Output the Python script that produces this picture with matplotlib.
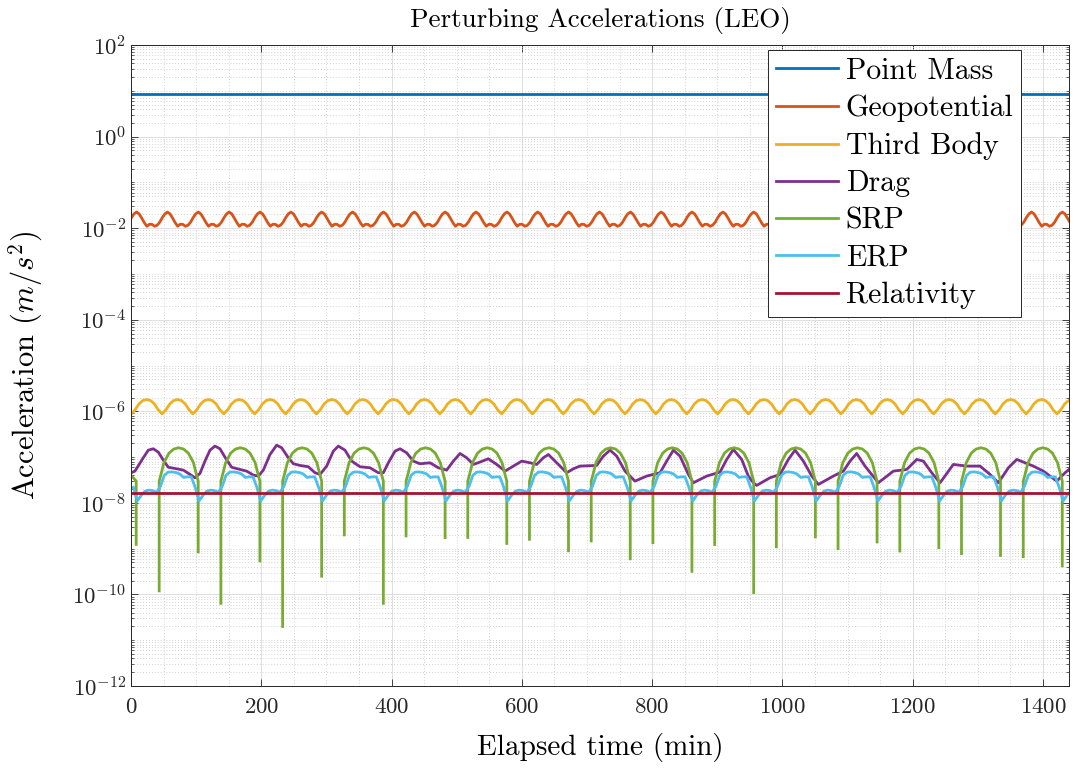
import numpy as np
import matplotlib
matplotlib.use('Agg')
import matplotlib.pyplot as plt
from matplotlib.ticker import FixedLocator, LogLocator, NullFormatter, MultipleLocator

plt.rcParams['font.family'] = ['cmr10', 'DejaVu Serif']
plt.rcParams['mathtext.fontset'] = 'cm'
plt.rcParams['axes.formatter.use_mathtext'] = True

# ---------------- data ----------------
labels = ['Point Mass', 'Geopotential', 'Third Body', 'Drag', 'SRP', 'ERP', 'Relativity']
colors = ['#0072BD', '#D95319', '#EDB120', '#7E2F8E', '#77AC30', '#4DBEEE', '#A2142F']

x_ticks = [0, 200, 400, 600, 800, 1000, 1200, 1400]

# constant series
pm_t = [0, 1440]
pm_v = [8.4, 8.4]
rel_t = [0, 1440]
rel_v = [1.67e-8, 1.67e-8]

# Geopotential, sampled every 3.9475 min starting at -3.24 min
geo_t0, geo_dt = -3.24, 3.9475
geo_v = [
    1.35e-2, 1.70e-2, 2.05e-2, 2.25e-2, 2.05e-2, 1.66e-2, 1.32e-2, 1.10e-2, 1.22e-2, 1.21e-2, 1.10e-2, 1.16e-2,
    1.35e-2, 1.70e-2, 2.05e-2, 2.25e-2, 2.05e-2, 1.66e-2, 1.32e-2, 1.10e-2, 1.22e-2, 1.21e-2, 1.10e-2, 1.16e-2,
    1.35e-2, 1.70e-2, 2.05e-2, 2.25e-2, 2.05e-2, 1.66e-2, 1.32e-2, 1.10e-2, 1.22e-2, 1.21e-2, 1.10e-2, 1.16e-2,
    1.35e-2, 1.70e-2, 2.05e-2, 2.25e-2, 2.05e-2, 1.66e-2, 1.32e-2, 1.10e-2, 1.22e-2, 1.21e-2, 1.10e-2, 1.16e-2,
    1.35e-2, 1.70e-2, 2.05e-2, 2.25e-2, 2.05e-2, 1.66e-2, 1.32e-2, 1.10e-2, 1.22e-2, 1.21e-2, 1.10e-2, 1.16e-2,
    1.35e-2, 1.70e-2, 2.05e-2, 2.25e-2, 2.05e-2, 1.66e-2, 1.32e-2, 1.10e-2, 1.22e-2, 1.21e-2, 1.10e-2, 1.16e-2,
    1.35e-2, 1.70e-2, 2.05e-2, 2.25e-2, 2.05e-2, 1.66e-2, 1.32e-2, 1.10e-2, 1.22e-2, 1.21e-2, 1.10e-2, 1.16e-2,
    1.35e-2, 1.70e-2, 2.05e-2, 2.25e-2, 2.05e-2, 1.66e-2, 1.32e-2, 1.10e-2, 1.22e-2, 1.21e-2, 1.10e-2, 1.16e-2,
    1.35e-2, 1.70e-2, 2.05e-2, 2.25e-2, 2.05e-2, 1.66e-2, 1.32e-2, 1.10e-2, 1.22e-2, 1.21e-2, 1.10e-2, 1.16e-2,
    1.35e-2, 1.70e-2, 2.05e-2, 2.25e-2, 2.05e-2, 1.66e-2, 1.32e-2, 1.10e-2, 1.22e-2, 1.21e-2, 1.10e-2, 1.16e-2,
    1.35e-2, 1.70e-2, 2.05e-2, 2.25e-2, 2.05e-2, 1.66e-2, 1.32e-2, 1.10e-2, 1.22e-2, 1.21e-2, 1.10e-2, 1.16e-2,
    1.35e-2, 1.70e-2, 2.05e-2, 2.25e-2, 2.05e-2, 1.66e-2, 1.32e-2, 1.10e-2, 1.22e-2, 1.21e-2, 1.10e-2, 1.16e-2,
    1.35e-2, 1.70e-2, 2.05e-2, 2.25e-2, 2.05e-2, 1.66e-2, 1.32e-2, 1.10e-2, 1.22e-2, 1.21e-2, 1.10e-2, 1.16e-2,
    1.35e-2, 1.70e-2, 2.05e-2, 2.25e-2, 2.05e-2, 1.66e-2, 1.32e-2, 1.10e-2, 1.22e-2, 1.21e-2, 1.10e-2, 1.16e-2,
    1.35e-2, 1.70e-2, 2.05e-2, 2.25e-2, 2.05e-2, 1.66e-2, 1.32e-2, 1.10e-2, 1.22e-2, 1.21e-2, 1.10e-2, 1.16e-2,
    1.35e-2, 1.70e-2, 2.05e-2, 2.25e-2, 2.05e-2, 1.66e-2, 1.32e-2, 1.10e-2, 1.22e-2, 1.21e-2, 1.10e-2, 1.16e-2,
    1.35e-2, 1.70e-2, 2.05e-2, 2.25e-2, 2.05e-2, 1.66e-2, 1.32e-2, 1.10e-2, 1.22e-2, 1.21e-2, 1.10e-2, 1.16e-2,
    1.35e-2, 1.70e-2, 2.05e-2, 2.25e-2, 2.05e-2, 1.66e-2, 1.32e-2, 1.10e-2, 1.22e-2, 1.21e-2, 1.10e-2, 1.16e-2,
    1.35e-2, 1.70e-2, 2.05e-2, 2.25e-2, 2.05e-2, 1.66e-2, 1.32e-2, 1.10e-2, 1.22e-2, 1.21e-2, 1.10e-2, 1.16e-2,
    1.35e-2, 1.70e-2, 2.05e-2, 2.25e-2, 2.05e-2, 1.66e-2, 1.32e-2, 1.10e-2, 1.22e-2, 1.21e-2, 1.10e-2, 1.16e-2,
    1.35e-2, 1.70e-2, 2.05e-2, 2.25e-2, 2.05e-2, 1.66e-2, 1.32e-2, 1.10e-2, 1.22e-2, 1.21e-2, 1.10e-2, 1.16e-2,
    1.35e-2, 1.70e-2, 2.05e-2, 2.25e-2, 2.05e-2, 1.66e-2, 1.32e-2, 1.10e-2, 1.22e-2, 1.21e-2, 1.10e-2, 1.16e-2,
    1.35e-2, 1.70e-2, 2.05e-2, 2.25e-2, 2.05e-2, 1.66e-2, 1.32e-2, 1.10e-2, 1.22e-2, 1.21e-2, 1.10e-2, 1.16e-2,
    1.35e-2, 1.70e-2, 2.05e-2, 2.25e-2, 2.05e-2, 1.66e-2, 1.32e-2, 1.10e-2, 1.22e-2, 1.21e-2, 1.10e-2, 1.16e-2,
    1.35e-2, 1.70e-2, 2.05e-2, 2.25e-2, 2.05e-2, 1.66e-2, 1.32e-2, 1.10e-2, 1.22e-2, 1.21e-2, 1.10e-2, 1.16e-2,
    1.35e-2, 1.70e-2, 2.05e-2, 2.25e-2, 2.05e-2, 1.66e-2, 1.32e-2, 1.10e-2, 1.22e-2, 1.21e-2, 1.10e-2, 1.16e-2,
    1.35e-2, 1.70e-2, 2.05e-2, 2.25e-2, 2.05e-2, 1.66e-2, 1.32e-2, 1.10e-2, 1.22e-2, 1.21e-2, 1.10e-2, 1.16e-2,
    1.35e-2, 1.70e-2, 2.05e-2, 2.25e-2, 2.05e-2, 1.66e-2, 1.32e-2, 1.10e-2, 1.22e-2, 1.21e-2, 1.10e-2, 1.16e-2,
    1.35e-2, 1.70e-2, 2.05e-2, 2.25e-2, 2.05e-2, 1.66e-2, 1.32e-2, 1.10e-2, 1.22e-2, 1.21e-2, 1.10e-2, 1.16e-2,
    1.35e-2, 1.70e-2, 2.05e-2, 2.25e-2, 2.05e-2, 1.66e-2, 1.32e-2, 1.10e-2, 1.22e-2, 1.21e-2, 1.10e-2, 1.16e-2,
    1.35e-2, 1.70e-2, 2.05e-2, 2.25e-2, 2.05e-2, 1.66e-2, 1.32e-2,
]

# Third body, sampled every 5.921 min starting at -5.5 min
tb_t0, tb_dt = -5.5, 5.921
tb_v = [
    1.08e-6, 8.8e-7, 1.08e-6, 1.45e-6, 1.72e-6, 1.81e-6, 1.72e-6, 1.45e-6,
    1.08e-6, 8.8e-7, 1.08e-6, 1.45e-6, 1.72e-6, 1.81e-6, 1.72e-6, 1.45e-6,
    1.08e-6, 8.8e-7, 1.08e-6, 1.45e-6, 1.72e-6, 1.81e-6, 1.72e-6, 1.45e-6,
    1.08e-6, 8.8e-7, 1.08e-6, 1.45e-6, 1.72e-6, 1.81e-6, 1.72e-6, 1.45e-6,
    1.08e-6, 8.8e-7, 1.08e-6, 1.45e-6, 1.72e-6, 1.81e-6, 1.72e-6, 1.45e-6,
    1.08e-6, 8.8e-7, 1.08e-6, 1.45e-6, 1.72e-6, 1.81e-6, 1.72e-6, 1.45e-6,
    1.08e-6, 8.8e-7, 1.08e-6, 1.45e-6, 1.72e-6, 1.81e-6, 1.72e-6, 1.45e-6,
    1.08e-6, 8.8e-7, 1.08e-6, 1.45e-6, 1.72e-6, 1.81e-6, 1.72e-6, 1.45e-6,
    1.08e-6, 8.8e-7, 1.08e-6, 1.45e-6, 1.72e-6, 1.81e-6, 1.72e-6, 1.45e-6,
    1.08e-6, 8.8e-7, 1.08e-6, 1.45e-6, 1.72e-6, 1.81e-6, 1.72e-6, 1.45e-6,
    1.08e-6, 8.8e-7, 1.08e-6, 1.45e-6, 1.72e-6, 1.81e-6, 1.72e-6, 1.45e-6,
    1.08e-6, 8.8e-7, 1.08e-6, 1.45e-6, 1.72e-6, 1.81e-6, 1.72e-6, 1.45e-6,
    1.08e-6, 8.8e-7, 1.08e-6, 1.45e-6, 1.72e-6, 1.81e-6, 1.72e-6, 1.45e-6,
    1.08e-6, 8.8e-7, 1.08e-6, 1.45e-6, 1.72e-6, 1.81e-6, 1.72e-6, 1.45e-6,
    1.08e-6, 8.8e-7, 1.08e-6, 1.45e-6, 1.72e-6, 1.81e-6, 1.72e-6, 1.45e-6,
    1.08e-6, 8.8e-7, 1.08e-6, 1.45e-6, 1.72e-6, 1.81e-6, 1.72e-6, 1.45e-6,
    1.08e-6, 8.8e-7, 1.08e-6, 1.45e-6, 1.72e-6, 1.81e-6, 1.72e-6, 1.45e-6,
    1.08e-6, 8.8e-7, 1.08e-6, 1.45e-6, 1.72e-6, 1.81e-6, 1.72e-6, 1.45e-6,
    1.08e-6, 8.8e-7, 1.08e-6, 1.45e-6, 1.72e-6, 1.81e-6, 1.72e-6, 1.45e-6,
    1.08e-6, 8.8e-7, 1.08e-6, 1.45e-6, 1.72e-6, 1.81e-6, 1.72e-6, 1.45e-6,
    1.08e-6, 8.8e-7, 1.08e-6, 1.45e-6, 1.72e-6, 1.81e-6, 1.72e-6, 1.45e-6,
    1.08e-6, 8.8e-7, 1.08e-6, 1.45e-6, 1.72e-6, 1.81e-6, 1.72e-6, 1.45e-6,
    1.08e-6, 8.8e-7, 1.08e-6, 1.45e-6, 1.72e-6, 1.81e-6, 1.72e-6, 1.45e-6,
    1.08e-6, 8.8e-7, 1.08e-6, 1.45e-6, 1.72e-6, 1.81e-6, 1.72e-6, 1.45e-6,
    1.08e-6, 8.8e-7, 1.08e-6, 1.45e-6, 1.72e-6, 1.81e-6, 1.72e-6, 1.45e-6,
    1.08e-6, 8.8e-7, 1.08e-6, 1.45e-6, 1.72e-6, 1.81e-6, 1.72e-6, 1.45e-6,
    1.08e-6, 8.8e-7, 1.08e-6, 1.45e-6, 1.72e-6, 1.81e-6, 1.72e-6, 1.45e-6,
    1.08e-6, 8.8e-7, 1.08e-6, 1.45e-6, 1.72e-6, 1.81e-6, 1.72e-6, 1.45e-6,
    1.08e-6, 8.8e-7, 1.08e-6, 1.45e-6, 1.72e-6, 1.81e-6, 1.72e-6, 1.45e-6,
    1.08e-6, 8.8e-7, 1.08e-6, 1.45e-6, 1.72e-6, 1.81e-6, 1.72e-6, 1.45e-6,
    1.08e-6, 8.8e-7, 1.08e-6, 1.45e-6, 1.72e-6, 1.81e-6,
]

# ERP, sampled every 5.921 min starting at -2.14 min
erp_t0, erp_dt = -2.14, 5.921
erp_v = [
    2.0e-8, 2.2e-8, 1.1e-8, 1.45e-8, 1.8e-8, 1.9e-8, 1.85e-8, 1.7e-8, 2.3e-8, 4.0e-8, 4.7e-8, 4.75e-8, 4.6e-8, 4.3e-8, 3.6e-8, 3.7e-8,
    3.7e-8, 2.2e-8, 1.1e-8, 1.45e-8, 1.8e-8, 1.9e-8, 1.85e-8, 1.7e-8, 2.3e-8, 4.0e-8, 4.7e-8, 4.75e-8, 4.6e-8, 4.3e-8, 3.6e-8, 3.7e-8,
    3.7e-8, 2.2e-8, 1.1e-8, 1.45e-8, 1.8e-8, 1.9e-8, 1.85e-8, 1.7e-8, 2.3e-8, 4.0e-8, 4.7e-8, 4.75e-8, 4.6e-8, 4.3e-8, 3.6e-8, 3.7e-8,
    3.7e-8, 2.2e-8, 1.1e-8, 1.45e-8, 1.8e-8, 1.9e-8, 1.85e-8, 1.7e-8, 2.3e-8, 4.0e-8, 4.7e-8, 4.75e-8, 4.6e-8, 4.3e-8, 3.6e-8, 3.7e-8,
    3.7e-8, 2.2e-8, 1.1e-8, 1.45e-8, 1.8e-8, 1.9e-8, 1.85e-8, 1.7e-8, 2.3e-8, 4.0e-8, 4.7e-8, 4.75e-8, 4.6e-8, 4.3e-8, 3.6e-8, 3.7e-8,
    3.7e-8, 2.2e-8, 1.1e-8, 1.45e-8, 1.8e-8, 1.9e-8, 1.85e-8, 1.7e-8, 2.3e-8, 4.0e-8, 4.7e-8, 4.75e-8, 4.6e-8, 4.3e-8, 3.6e-8, 3.7e-8,
    3.7e-8, 2.2e-8, 1.1e-8, 1.45e-8, 1.8e-8, 1.9e-8, 1.85e-8, 1.7e-8, 2.3e-8, 4.0e-8, 4.7e-8, 4.75e-8, 4.6e-8, 4.3e-8, 3.6e-8, 3.7e-8,
    3.7e-8, 2.2e-8, 1.1e-8, 1.45e-8, 1.8e-8, 1.9e-8, 1.85e-8, 1.7e-8, 2.3e-8, 4.0e-8, 4.7e-8, 4.75e-8, 4.6e-8, 4.3e-8, 3.6e-8, 3.7e-8,
    3.7e-8, 2.2e-8, 1.1e-8, 1.45e-8, 1.8e-8, 1.9e-8, 1.85e-8, 1.7e-8, 2.3e-8, 4.0e-8, 4.7e-8, 4.75e-8, 4.6e-8, 4.3e-8, 3.6e-8, 3.7e-8,
    3.7e-8, 2.2e-8, 1.1e-8, 1.45e-8, 1.8e-8, 1.9e-8, 1.85e-8, 1.7e-8, 2.3e-8, 4.0e-8, 4.7e-8, 4.75e-8, 4.6e-8, 4.3e-8, 3.6e-8, 3.7e-8,
    3.7e-8, 2.2e-8, 1.1e-8, 1.45e-8, 1.8e-8, 1.9e-8, 1.85e-8, 1.7e-8, 2.3e-8, 4.0e-8, 4.7e-8, 4.75e-8, 4.6e-8, 4.3e-8, 3.6e-8, 3.7e-8,
    3.7e-8, 2.2e-8, 1.1e-8, 1.45e-8, 1.8e-8, 1.9e-8, 1.85e-8, 1.7e-8, 2.3e-8, 4.0e-8, 4.7e-8, 4.75e-8, 4.6e-8, 4.3e-8, 3.6e-8, 3.7e-8,
    3.7e-8, 2.2e-8, 1.1e-8, 1.45e-8, 1.8e-8, 1.9e-8, 1.85e-8, 1.7e-8, 2.3e-8, 4.0e-8, 4.7e-8, 4.75e-8, 4.6e-8, 4.3e-8, 3.6e-8, 3.7e-8,
    3.7e-8, 2.2e-8, 1.1e-8, 1.45e-8, 1.8e-8, 1.9e-8, 1.85e-8, 1.7e-8, 2.3e-8, 4.0e-8, 4.7e-8, 4.75e-8, 4.6e-8, 4.3e-8, 3.6e-8, 3.7e-8,
    3.7e-8, 2.2e-8, 1.1e-8, 1.45e-8, 1.8e-8, 1.9e-8, 1.85e-8, 1.7e-8, 2.3e-8, 4.0e-8, 4.7e-8, 4.75e-8, 4.6e-8, 4.3e-8, 3.6e-8, 3.7e-8,
    3.7e-8, 2.2e-8, 1.1e-8, 1.45e-8, 1.8e-8,
]

# Drag (key points)
drag_t = [0.0, 6.1, 18.9, 26.6, 34.3, 42.0, 49.6, 57.3, 70.1, 80.3, 90.6, 98.2, 105.9, 113.6, 121.3, 128.9,
          136.6, 145.8, 154.5, 167.3, 177.6, 187.8, 195.5, 203.2, 213.4, 223.6, 231.3, 241.6, 249.3, 259.5,
          272.3, 282.5, 290.2, 300.4, 310.6, 318.3, 328.5, 338.8, 351.6, 366.9, 379.7, 387.4, 395.1, 405.3,
          413.0, 423.2, 433.4, 443.7, 459.0, 471.8, 484.6, 494.9, 505.1, 515.3, 525.6, 535.8, 548.6, 561.4,
          574.2, 587.0, 599.8, 612.6, 622.8, 633.0, 640.7, 653.5, 668.8, 679.1, 689.3, 714.9, 725.1, 735.4,
          745.6, 758.4, 773.7, 791.6, 812.1, 822.4, 832.6, 842.8, 855.6, 863.3, 883.8, 904.2, 914.5, 924.7,
          937.5, 947.7, 955.4, 960.5, 981.0, 996.4, 1009.1, 1019.4, 1032.2, 1045.0, 1055.2, 1078.2, 1093.6,
          1103.8, 1114.0, 1126.8, 1147.3, 1170.3, 1190.8, 1206.2, 1216.4, 1229.2, 1242.0, 1262.4, 1282.9,
          1303.4, 1318.7, 1331.5, 1346.9, 1359.7, 1385.2, 1400.6, 1421.1, 1433.9, 1440.0]
drag_v = [4.55e-8, 4.94e-8, 9.67e-8, 1.42e-7, 1.52e-7, 1.28e-7, 8.6e-8, 6.0e-8, 5.56e-8, 5.2e-8, 4.19e-8, 3.54e-8, 4.4e-8, 8.17e-8, 1.42e-7, 1.74e-7,
          1.52e-7, 9.19e-8, 6.0e-8, 5.38e-8, 4.94e-8, 4.05e-8, 3.85e-8, 5.2e-8, 1.14e-7, 1.82e-7, 1.6e-7, 9.67e-8, 7.15e-8, 6.58e-8,
          6.15e-8, 4.55e-8, 4.19e-8, 6.36e-8, 1.35e-7, 1.74e-7, 1.42e-7, 8.17e-8, 6.15e-8, 5.85e-8, 4.55e-8, 4.55e-8, 7.52e-8, 1.35e-7,
          1.52e-7, 1.24e-7, 8.17e-8, 7.15e-8, 7.52e-8, 5.85e-8, 5.2e-8, 8.17e-8, 1.2e-7, 9.67e-8, 6.92e-8, 7.8e-8, 9.19e-8, 6.92e-8,
          4.94e-8, 6.36e-8, 8.17e-8, 7.52e-8, 6.92e-8, 9.67e-8, 1.14e-7, 7.52e-8, 4.55e-8, 5.56e-8, 6.36e-8, 6.58e-8, 1.05e-7, 1.42e-7,
          1.05e-7, 4.94e-8, 2.99e-8, 3.85e-8, 4.55e-8, 8.17e-8, 1.42e-7, 1.05e-7, 4.19e-8, 2.75e-8, 3.85e-8, 4.7e-8, 8.89e-8, 1.47e-7,
          8.89e-8, 3.85e-8, 2.75e-8, 2.41e-8, 3.54e-8, 4.19e-8, 8.89e-8, 1.42e-7, 8.17e-8, 3.85e-8, 2.53e-8, 3.85e-8, 4.94e-8,
          8.17e-8, 1.2e-7, 6.36e-8, 2.75e-8, 4.94e-8, 5.38e-8, 8.89e-8, 8.17e-8, 4.55e-8, 2.75e-8, 6.92e-8, 6.36e-8,
          6.36e-8, 4.19e-8, 2.75e-8, 5.85e-8, 8.89e-8, 6.36e-8, 4.94e-8, 2.99e-8, 4.55e-8, 5.38e-8]

# SRP: sunlit arcs with penumbra spikes; nan = eclipse (zero, not drawn)
nan = float('nan')
srp_t = [
    0.0, 8.0, 8.0, 8.0,
    43.3, 43.3, 45.7, 50.5, 58.3, 65.7, 73.2, 80.7, 88.1, 96.0, 100.8, 103.2, 103.2, 103.2,
    138.0, 138.0, 140.4, 145.2, 153.0, 160.4, 167.9, 175.4, 182.8, 190.7, 195.5, 197.9, 197.9, 197.9,
    232.8, 232.8, 235.2, 240.0, 247.8, 255.2, 262.7, 270.2, 277.6, 285.5, 290.3, 292.7, 292.7, 292.7,
    327.5, 327.5, 329.9, 334.7, 342.5, 349.9, 357.4, 364.9, 372.3, 380.2, 385.0, 387.4, 387.4, 387.4,
    422.3, 422.3, 424.7, 429.5, 437.3, 444.7, 452.2, 459.7, 467.1, 475.0, 479.8, 482.2, 482.2, 482.2,
    517.0, 517.0, 519.4, 524.2, 532.0, 539.4, 546.9, 554.4, 561.8, 569.7, 574.5, 576.9, 576.9, 576.9,
    611.7, 611.7, 614.1, 618.9, 626.7, 634.1, 641.6, 649.1, 656.5, 664.4, 669.2, 671.6, 671.6, 671.6,
    706.5, 706.5, 708.9, 713.7, 721.5, 728.9, 736.4, 743.9, 751.3, 759.2, 764.0, 766.4, 766.4, 766.4,
    801.2, 801.2, 803.6, 808.4, 816.2, 823.6, 831.1, 838.6, 846.0, 853.9, 858.7, 861.1, 861.1, 861.1,
    896.0, 896.0, 898.4, 903.2, 911.0, 918.4, 925.9, 933.4, 940.8, 948.7, 953.5, 955.9, 955.9, 955.9,
    990.7, 990.7, 993.1, 997.9, 1005.7, 1013.1, 1020.6, 1028.1, 1035.5, 1043.4, 1048.2, 1050.6, 1050.6, 1050.6,
    1085.4, 1085.4, 1087.8, 1092.6, 1100.4, 1107.8, 1115.3, 1122.8, 1130.2, 1138.1, 1142.9, 1145.3, 1145.3, 1145.3,
    1180.2, 1180.2, 1182.6, 1187.4, 1195.2, 1202.6, 1210.1, 1217.6, 1225.0, 1232.9, 1237.7, 1240.1, 1240.1, 1240.1,
    1274.9, 1274.9, 1277.3, 1282.1, 1289.9, 1297.3, 1304.8, 1312.3, 1319.7, 1327.6, 1332.4, 1334.8, 1334.8, 1334.8,
    1369.7, 1369.7, 1372.1, 1376.9, 1384.7, 1392.1, 1399.6, 1407.1, 1414.5, 1422.4, 1427.2, 1429.6, 1429.6, 1429.6,
]
srp_v = [
    4.0e-8, 3.0e-8, 1.24e-9, nan,
    1.2e-10, 3.0e-8, 4.0e-8, 7.5e-8, 1.22e-7, 1.5e-7, 1.6e-7, 1.5e-7, 1.22e-7, 7.5e-8, 4.0e-8, 3.0e-8, 8.5e-10, nan,
    6.4e-11, 3.0e-8, 4.0e-8, 7.5e-8, 1.22e-7, 1.5e-7, 1.6e-7, 1.5e-7, 1.22e-7, 7.5e-8, 4.0e-8, 3.0e-8, 5.4e-10, nan,
    2.0e-11, 3.0e-8, 4.0e-8, 7.5e-8, 1.22e-7, 1.5e-7, 1.6e-7, 1.5e-7, 1.22e-7, 7.5e-8, 4.0e-8, 3.0e-8, 2.5e-10, nan,
    2.0e-9, 3.0e-8, 4.0e-8, 7.5e-8, 1.22e-7, 1.5e-7, 1.6e-7, 1.5e-7, 1.22e-7, 7.5e-8, 4.0e-8, 3.0e-8, 6.4e-11, nan,
    1.9e-9, 3.0e-8, 4.0e-8, 7.5e-8, 1.22e-7, 1.5e-7, 1.6e-7, 1.5e-7, 1.22e-7, 7.5e-8, 4.0e-8, 3.0e-8, 1.74e-9, nan,
    1.76e-9, 3.0e-8, 4.0e-8, 7.5e-8, 1.22e-7, 1.5e-7, 1.6e-7, 1.5e-7, 1.22e-7, 7.5e-8, 4.0e-8, 3.0e-8, 1.3e-9, nan,
    1.6e-9, 3.0e-8, 4.0e-8, 7.5e-8, 1.22e-7, 1.5e-7, 1.6e-7, 1.5e-7, 1.22e-7, 7.5e-8, 4.0e-8, 3.0e-8, 9.0e-10, nan,
    1.47e-9, 3.0e-8, 4.0e-8, 7.5e-8, 1.22e-7, 1.5e-7, 1.6e-7, 1.5e-7, 1.22e-7, 7.5e-8, 4.0e-8, 3.0e-8, 6.0e-10, nan,
    1.35e-9, 3.0e-8, 4.0e-8, 7.5e-8, 1.22e-7, 1.5e-7, 1.6e-7, 1.5e-7, 1.22e-7, 7.5e-8, 4.0e-8, 3.0e-8, 3.2e-10, nan,
    1.23e-9, 3.0e-8, 4.0e-8, 7.5e-8, 1.22e-7, 1.5e-7, 1.6e-7, 1.5e-7, 1.22e-7, 7.5e-8, 4.0e-8, 3.0e-8, 1.1e-10, nan,
    1.1e-9, 3.0e-8, 4.0e-8, 7.5e-8, 1.22e-7, 1.5e-7, 1.6e-7, 1.5e-7, 1.22e-7, 7.5e-8, 4.0e-8, 3.0e-8, 1.8e-9, nan,
    1.0e-9, 3.0e-8, 4.0e-8, 7.5e-8, 1.22e-7, 1.5e-7, 1.6e-7, 1.5e-7, 1.22e-7, 7.5e-8, 4.0e-8, 3.0e-8, 1.4e-9, nan,
    8.9e-10, 3.0e-8, 4.0e-8, 7.5e-8, 1.22e-7, 1.5e-7, 1.6e-7, 1.5e-7, 1.22e-7, 7.5e-8, 4.0e-8, 3.0e-8, 1.05e-9, nan,
    7.8e-10, 3.0e-8, 4.0e-8, 7.5e-8, 1.22e-7, 1.5e-7, 1.6e-7, 1.5e-7, 1.22e-7, 7.5e-8, 4.0e-8, 3.0e-8, 7.1e-10, nan,
    6.7e-10, 3.0e-8, 4.0e-8, 7.5e-8, 1.22e-7, 1.5e-7, 1.6e-7, 1.5e-7, 1.22e-7, 7.5e-8, 4.0e-8, 3.0e-8, 4.2e-10, nan,
]

# ---------------- plot ----------------
geo_t = geo_t0 + geo_dt * np.arange(len(geo_v))
tb_t = tb_t0 + tb_dt * np.arange(len(tb_v))
erp_t = erp_t0 + erp_dt * np.arange(len(erp_v))

series = [(pm_t, pm_v), (geo_t, geo_v), (tb_t, tb_v), (drag_t, drag_v),
          (srp_t, srp_v), (erp_t, erp_v), (rel_t, rel_v)]

fig = plt.figure(figsize=(10.78, 7.71), dpi=100)
ax = fig.add_axes([0.1215, 0.1102, 0.8702, 0.8314])

for (t, v), lab, c in zip(series, labels, colors):
    ax.plot(t, v, color=c, lw=2.0, label=lab, solid_joinstyle='round')

ax.set_yscale('log')
ax.set_xlim(0, 1440)
ax.set_ylim(1e-12, 1e2)
ax.xaxis.set_major_locator(FixedLocator(x_ticks))
ax.xaxis.set_minor_locator(MultipleLocator(50))
ax.yaxis.set_major_locator(FixedLocator([1e-12, 1e-10, 1e-8, 1e-6, 1e-4, 1e-2, 1e0, 1e2]))
ax.yaxis.set_minor_locator(LogLocator(base=10, subs=np.arange(1, 10), numticks=200))
ax.yaxis.set_minor_formatter(NullFormatter())

ax.set_axisbelow(True)
ax.grid(which='major', color='#dedede', lw=0.7, ls='-')
ax.grid(which='minor', color='#c4c4c4', lw=0.6, ls=(0, (1, 2.5)))

for s in ax.spines.values():
    s.set_color('#262626')
    s.set_linewidth(0.7)
ax.tick_params(which='both', direction='in', top=True, right=True, colors='#262626')
ax.tick_params(which='major', length=5, width=0.6, labelsize=16.5, labelcolor='#262626')
ax.tick_params(which='minor', length=2.5, width=0.5)
ax.tick_params(axis='x', which='minor', length=0)
ax.tick_params(axis='x', pad=8)

ax.set_xlabel('Elapsed time (min)', fontsize=21)
ax.set_ylabel('Acceleration ($m/s^2$)', fontsize=22)
ax.xaxis.set_label_coords(0.5, -0.074)
ax.yaxis.set_label_coords(-0.092, 0.5)
ax.set_title('Perturbing Accelerations (LEO)', fontsize=19.5, pad=13)

leg = ax.legend(loc='upper right', bbox_to_anchor=(0.9488, 0.9922), borderaxespad=0,
                fontsize=21.5, frameon=True, fancybox=False, framealpha=1,
                handlelength=2.1, handletextpad=0.25, labelspacing=0.33, borderpad=0.25)
leg.get_frame().set_edgecolor('#262626')
leg.get_frame().set_linewidth(0.7)

fig.savefig('out.png', dpi=100)
